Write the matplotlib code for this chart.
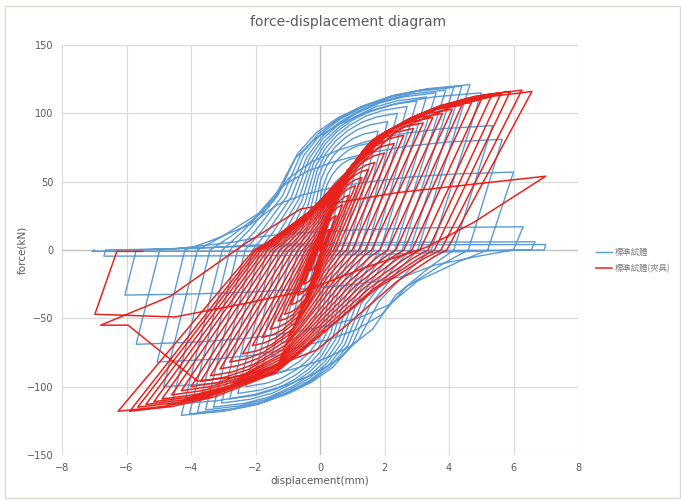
import matplotlib
matplotlib.use("Agg")
import matplotlib.pyplot as plt
from matplotlib.patches import Rectangle

# ---------------- data ----------------
title = "force-displacement diagram"
x_label = "displacement(mm)"
y_label = "force(kN)"
series_names = ["標準試體", "標準試體(夾具)"]
x_ticks = [-8, -6, -4, -2, 0, 2, 4, 6, 8]
y_ticks = [-150, -100, -50, 0, 50, 100, 150]

# blue series (標準試體): per cycle peak + zero-force displacement after unloading
b_dp = [0.3, 0.6, 0.9, 1.2, 1.5, 1.8, 2.1, 2.4, 2.7, 3.0, 3.3, 3.6, 3.9, 4.15, 4.4, 4.65, 5.0, 5.35, 5.65, 6.0, 6.3, 6.67, 7.0]
b_fp = [22, 40, 55, 68, 78, 87, 94, 100, 105, 109, 112, 115, 117, 119, 120, 121, 115, 91, 81, 57, 17, 6, 4]
b_zp = [0.07, 0.18, 0.32, 0.48, 0.68, 0.88, 1.06, 1.25, 1.45, 1.65, 1.87, 2.09, 2.32, 2.55, 2.79, 3.03, 3.45, 4.15, 4.6, 5.2, 6.0, 6.55, 6.95]
b_dn = [-0.3, -0.6, -0.9, -1.2, -1.5, -1.8, -2.05, -2.3, -2.55, -2.8, -3.05, -3.3, -3.55, -3.8, -4.05, -4.3, -4.6, -4.85, -5.05, -5.7, -6.05, -6.7, -7.07]
b_fn = [-22, -40, -55, -68, -78, -87, -94, -100, -105, -109, -112, -115, -117, -119, -120, -121, -113, -100, -82, -69, -33, -4.5, -1]
b_zn = [-0.07, -0.18, -0.32, -0.48, -0.68, -0.88, -1.06, -1.25, -1.45, -1.65, -1.87, -2.09, -2.32, -2.55, -2.79, -3.03, -3.41, -3.8, -4.19, -4.97, -5.7, -6.65, -7.0]
# normalised shape of a blue reloading branch (zero force -> peak)
b_shape_u = [0, 0.08, 0.2, 0.28, 0.36, 0.45, 0.55, 0.68, 0.82, 1.0]
b_shape_v = [0, 0.12, 0.33, 0.58, 0.71, 0.80, 0.87, 0.935, 0.975, 1.0]

# red series (標準試體(夾具))
r_dp = [0.3, 0.5, 0.7, 0.9, 1.1, 1.3, 1.5, 1.7, 2.0, 2.3, 2.6, 2.9, 3.2, 3.5, 3.8, 4.1, 4.4, 4.7, 5.0, 5.3, 5.6, 5.9, 6.26, 6.57]
r_fp = [15, 25, 33, 40, 47, 53, 59, 64, 71, 78, 84, 89, 93, 97, 100, 103, 106, 108, 110, 112, 114, 116, 117, 116]
r_zp = [0.05, 0.08, 0.12, 0.18, 0.25, 0.33, 0.42, 0.52, 0.66, 0.82, 1.0, 1.2, 1.4, 1.6, 1.85, 2.1, 2.35, 2.6, 2.85, 3.1, 3.35, 3.55, 3.75, 3.93]
r_dn = [-0.3, -0.5, -0.7, -0.9, -1.1, -1.3, -1.55, -1.8, -2.1, -2.4, -2.8, -3.1, -3.4, -3.7, -4.0, -4.3, -4.6, -4.9, -5.15, -5.4, -5.65, -5.9, -6.26, -3.8]
r_fn = [-15, -25, -33, -40, -47, -52, -58, -64, -70, -76, -82, -87, -92, -96, -100, -103, -106, -109, -111, -113, -115, -118, -118, -96]
r_zn = [-0.05, -0.08, -0.1, -0.14, -0.18, -0.22, -0.28, -0.35, -0.44, -0.55, -0.68, -0.82, -0.96, -1.1, -1.24, -1.38, -1.5, -1.62, -1.72, -1.82, -1.9, -1.98, -2.05, None]
r_shape_u = [0, 0.05, 0.2, 0.4, 0.52, 0.72, 0.86, 1.0]
r_shape_v = [0, 0.05, 0.24, 0.57, 0.76, 0.91, 0.97, 1.0]
# last, damaged part of the red record
r_tail_x = [-5.95, -6.8, -4.65, -2.3, -0.6, 2.4, 7.0, 4.75, 3.3, 1.5, -0.5, -2.3, -4.5, -6.98, -6.3, -5.5]
r_tail_y = [-55, -55, -34, 5, 30, 42, 54, 20, 2, -12, -30, -39, -49, -47, -1, -1]

blue = "#5B9BD5"
red = "#E8231E"


def build(dp, fp, zp, dn, fn, zn, su, sv):
    xs, ys = [0.0], [0.0]
    z0 = 0.0
    for i in range(len(dp)):
        for u, v in zip(su[1:], sv[1:]):
            xs.append(z0 + u * (dp[i] - z0))
            ys.append(v * fp[i])
        xs.append(zp[i]); ys.append(0.0)
        for u, v in zip(su[1:], sv[1:]):
            xs.append(zp[i] + u * (dn[i] - zp[i]))
            ys.append(v * fn[i])
        if zn[i] is not None:
            xs.append(zn[i]); ys.append(0.0)
            z0 = zn[i]
    return xs, ys


bx, by = build(b_dp, b_fp, b_zp, b_dn, b_fn, b_zn, b_shape_u, b_shape_v)
rx, ry = build(r_dp, r_fp, r_zp, r_dn, r_fn, r_zn, r_shape_u, r_shape_v)
rx += r_tail_x
ry += r_tail_y

fig = plt.figure(figsize=(6.81, 5.0), dpi=100)
fig.patch.set_facecolor("white")
fig.add_artist(Rectangle((0.008, 0.005), 0.99, 0.983, transform=fig.transFigure,
                         fill=False, edgecolor="#d5dccd", linewidth=1.0))

ax = fig.add_axes([62 / 681, 1 - 455 / 500, (578 - 62) / 681, (455 - 45) / 500])
ax.set_xlim(-8, 8)
ax.set_ylim(-150, 150)
ax.set_xticks(x_ticks)
ax.set_yticks(y_ticks)
ax.grid(True, color="#d9d9d9", linewidth=0.8)
ax.set_axisbelow(True)
for s in ax.spines.values():
    s.set_visible(False)
ax.axhline(0, color="#bfbfbf", linewidth=0.9, zorder=1)
ax.axvline(0, color="#bfbfbf", linewidth=0.9, zorder=1)
ax.tick_params(length=0, labelsize=7, colors="#595959", pad=6)

ax.plot(bx, by, color=blue, linewidth=1.0, label=series_names[0], zorder=2)
ax.plot(rx, ry, color=red, linewidth=1.1, label=series_names[1], zorder=3)

fig.text(348 / 681, 1 - 22 / 500, title, ha="center", va="center", fontsize=10, color="#595959")
fig.text(320 / 681, 1 - 481 / 500, x_label, ha="center", va="center", fontsize=7.5, color="#595959")
fig.text(22 / 681, 1 - 250 / 500, y_label, ha="center", va="center", rotation=90, fontsize=7.5, color="#595959")

leg = fig.legend(loc="upper left", bbox_to_anchor=(594 / 681, 1 - 246 / 500), frameon=False,
                 prop={"family": ["Noto Sans CJK TC", "DejaVu Sans"], "size": 6},
                 handlelength=1.9, handletextpad=0.4, labelspacing=0.9, borderpad=0.2,
                 borderaxespad=0.0)
for t in leg.get_texts():
    t.set_color("#7f7f7f")

fig.savefig("out.png", dpi=100)
